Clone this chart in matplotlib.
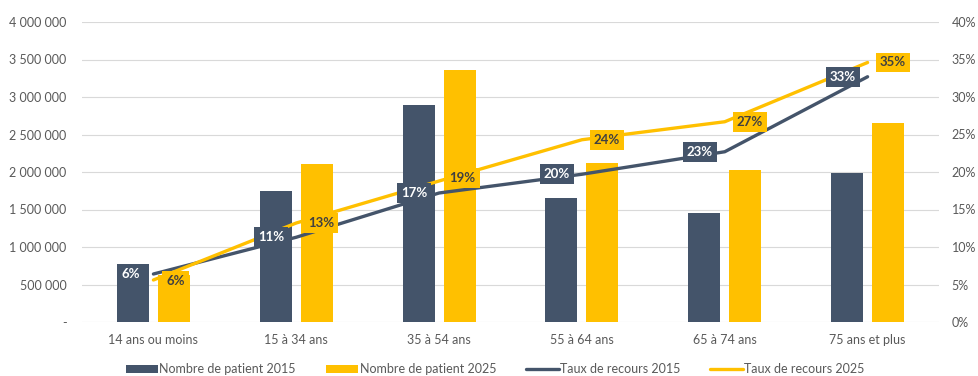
import numpy as np
import matplotlib
matplotlib.use("Agg")
import matplotlib.pyplot as plt
from matplotlib.ticker import FuncFormatter, MultipleLocator

plt.rcParams['font.family'] = ['Lato', 'DejaVu Sans']

# data
categories = ["14 ans ou moins", "15 à 34 ans", "35 à 54 ans", "55 à 64 ans", "65 à 74 ans", "75 ans et plus"]
patients_2015 = [773000, 1747000, 2900000, 1650000, 1457000, 1990000]
patients_2025 = [630000, 2107000, 3360000, 2120000, 2027000, 2657000]
taux_2015 = [0.064, 0.113, 0.172, 0.197, 0.227, 0.327]
taux_2025 = [0.056, 0.132, 0.188, 0.243, 0.267, 0.346]

dark = "#44546A"
gold = "#FFC000"
grey_txt = "#595959"

fig = plt.figure(figsize=(9.79, 3.76), dpi=100)
ax = fig.add_axes([82/979, 54/376, 857/979, 300/376])
ax2 = ax.twinx()

x = np.arange(len(categories))
w = 0.224
off = 0.1435
ax.bar(x - off, patients_2015, w, color=dark, zorder=2, label="Nombre de patient 2015")
ax.bar(x + off, patients_2025, w, color=gold, zorder=2, label="Nombre de patient 2025")

ax.set_ylim(0, 4000000)
ax.set_xlim(-0.5, len(categories) - 0.5)
ax.yaxis.set_major_locator(MultipleLocator(500000))
ax.yaxis.set_major_formatter(FuncFormatter(
    lambda v, p: "-" if v == 0 else f"{int(v):,}".replace(",", " ")))
ax.grid(axis="y", color="#D9D9D9", lw=0.8, zorder=0)
ax.set_axisbelow(True)
ax.set_xticks(x)
ax.set_xticklabels(categories)

l1, = ax2.plot(x, taux_2015, color=dark, lw=2.4, solid_capstyle="round", zorder=3,
               label="Taux de recours 2015")
l2, = ax2.plot(x, taux_2025, color=gold, lw=2.4, solid_capstyle="round", zorder=3,
               label="Taux de recours 2025")
ax2.set_ylim(0, 0.40)
ax2.yaxis.set_major_locator(MultipleLocator(0.05))
ax2.yaxis.set_major_formatter(FuncFormatter(lambda v, p: f"{v*100:.0f}%"))

for a in (ax, ax2):
    for s in a.spines.values():
        s.set_visible(False)
ax.tick_params(axis="both", length=0, colors=grey_txt, labelsize=9)
ax.tick_params(axis="y", pad=11)
ax.tick_params(axis="x", pad=9)
ax2.tick_params(axis="y", length=0, colors=grey_txt, labelsize=9, pad=9)

# data labels: 2015 to the left of the point, 2025 to the right
for i, v in enumerate(taux_2015):
    dx = -16 if i == 0 else -18
    ax2.annotate(f"{v*100:.0f}%", (x[i], v), xytext=(dx, 0), textcoords="offset points",
                 ha="center", va="center", color="white", fontsize=9.5, fontweight="bold",
                 bbox=dict(boxstyle="square,pad=0.3", fc=dark, ec="none"), zorder=5)
for i, v in enumerate(taux_2025):
    dx, dy = 18, 0
    if i == 0:
        dx, dy = 16, -1
    if i == 2:
        dx, dy = 17, 2
    ax2.annotate(f"{v*100:.0f}%", (x[i], v), xytext=(dx, dy), textcoords="offset points",
                 ha="center", va="center", color="#404040", fontsize=9.5, fontweight="bold",
                 bbox=dict(boxstyle="square,pad=0.3", fc=gold, ec="none"), zorder=5)

h1, lab1 = ax.get_legend_handles_labels()
fig.legend(h1 + [l1, l2], lab1 + [l1.get_label(), l2.get_label()],
           loc="center", bbox_to_anchor=(495/979, 7/376), ncol=4, frameon=False,
           fontsize=9, labelcolor=grey_txt, handlelength=2.6, handleheight=0.6,
           handletextpad=0.1, columnspacing=2.4)

fig.savefig("out.png", dpi=100)
